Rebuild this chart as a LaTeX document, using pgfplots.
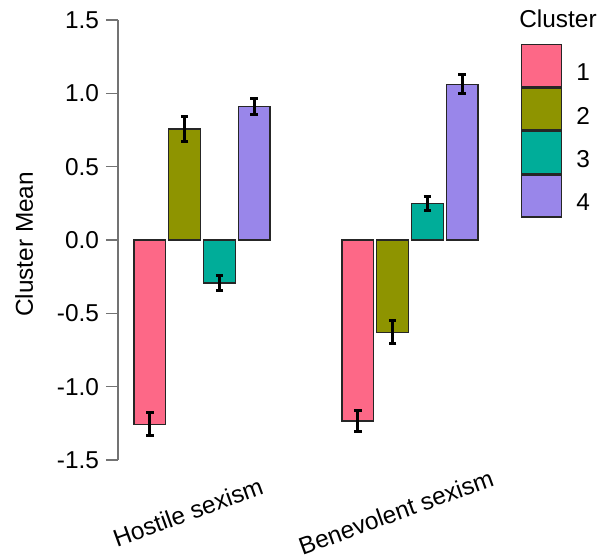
\documentclass[border=0pt]{standalone}
\usepackage{fontspec}
\setmainfont{Liberation Sans}
\usepackage{pgfplots}
\pgfplotsset{compat=1.18}
\usepackage{pgfplotstable}

\definecolor{c1}{RGB}{253,104,135}
\definecolor{c2}{RGB}{142,148,0}
\definecolor{c3}{RGB}{0,173,153}
\definecolor{c4}{RGB}{153,134,234}

\pgfplotstableread{
x c1 e1 c2 e2 c3 e3 c4 e4
0 -1.256 0.080 0.757 0.087 -0.293 0.050 0.911 0.057
1 -1.234 0.072 -0.629 0.080 0.250 0.047 1.061 0.065
}\data

\pgfplotsset{
  mybar/.style={fill=#1, draw=black!85, line width=0.7pt,
    legend image code/.code={\draw[fill=#1, draw=black!85, line width=0.7pt] (0pt,-6.4pt) rectangle (20pt,14.6pt);},
    /pgfplots/error bars/y dir=both, /pgfplots/error bars/y explicit,
    /pgfplots/error bars/error bar style={line width=1.5pt, black},
    /pgfplots/error bars/error mark options={rotate=90, mark size=1.9pt, line width=1.5pt, black}},
}

\begin{document}
\begin{tikzpicture}[font=\fontsize{12.2}{14.5}\selectfont]
\begin{axis}[
  ybar, bar width=15.85pt,
  scale only axis, width=191pt, height=220pt,
  xmin=-0.404, xmax=1.433, ymin=-1.5, ymax=1.5,
  axis y line=left, axis x line=bottom,
  x axis line style={draw=none},
  y axis line style={-, black!55, line width=0.6pt},
  ytick={-1.5,-1,-0.5,0,0.5,1,1.5},
  y tick label style={/pgf/number format/.cd, fixed, fixed zerofill, precision=1, assume math mode=true},
  xtick={0,1},
  xticklabels={Hostile sexism, Benevolent sexism},
  x tick label style={xshift=-7pt, yshift=-20pt, rotate=20, anchor=center},
  xtick style={draw=none},
  ytick style={black!55, line width=0.6pt},
  tick align=outside,
  major tick length=6pt,
  ylabel={Cluster Mean},
  ylabel style={at={(axis description cs:-0.2225,0.49)}, anchor=base},
  legend style={at={(axis description cs:1.055,0.9455)}, anchor=north west, draw=none, fill=none,
    inner sep=0pt, outer sep=0pt, row sep=0pt, nodes={inner sep=0pt},
    /tikz/every odd column/.append style={column sep=7pt}},
]
\addplot[mybar=c1, bar shift=-26.1pt] table[x=x, y=c1, y error=e1]{\data};
\addlegendentry{1}
\addplot[mybar=c2, bar shift=-8.7pt] table[x=x, y=c2, y error=e2]{\data};
\addlegendentry{2}
\addplot[mybar=c3, bar shift=8.7pt] table[x=x, y=c3, y error=e3]{\data};
\addlegendentry{3}
\addplot[mybar=c4, bar shift=26.1pt] table[x=x, y=c4, y error=e4]{\data};
\addlegendentry{4}
\end{axis}
\node[anchor=base] at (220pt,216.5pt) {Cluster};
\pgfresetboundingbox
\path (-59pt,-49.5pt) rectangle (243.5pt,230pt);
\end{tikzpicture}
\end{document}
